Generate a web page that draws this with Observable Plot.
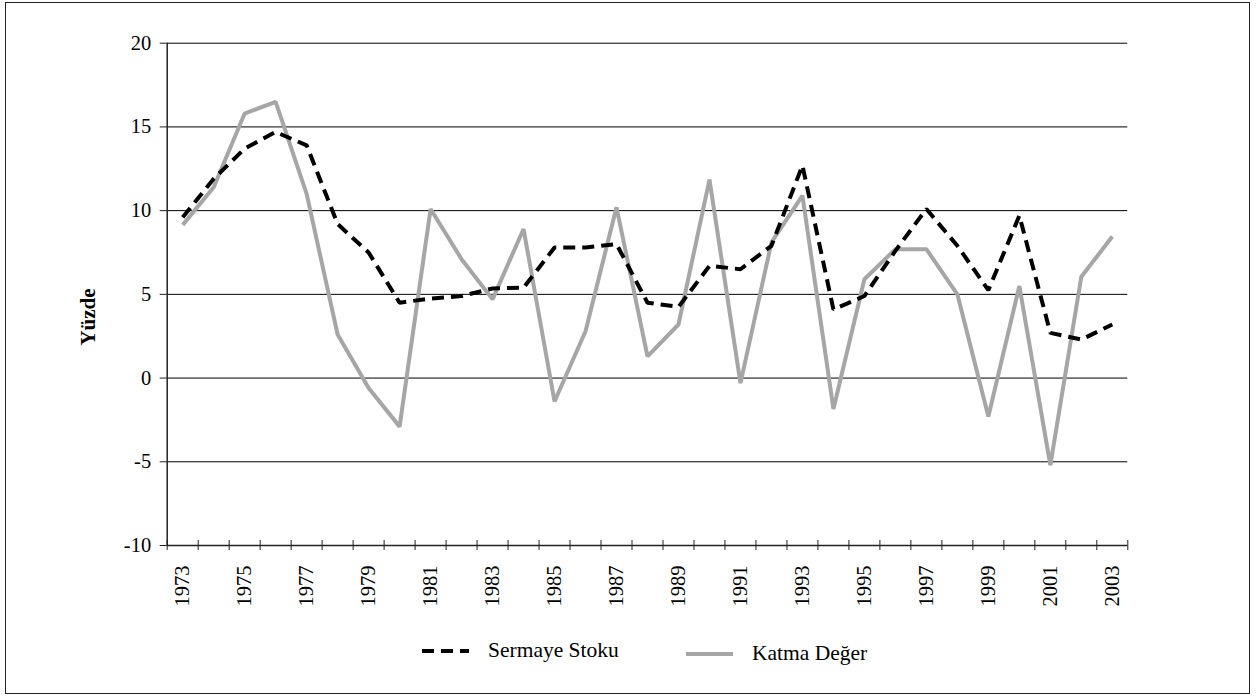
<!DOCTYPE html>
<html>
<head>
<meta charset="utf-8">
<script src="https://cdn.jsdelivr.net/npm/d3@7"></script>
<script src="https://cdn.jsdelivr.net/npm/@observablehq/plot@0.6"></script>
<style>
  html, body { margin: 0; padding: 0; background: #fff; }
  #wrap { position: relative; width: 1257px; height: 697px; overflow: hidden; font-family: "Liberation Serif", "Times New Roman", "DejaVu Serif", serif; }
  #frame { position: absolute; left: 5px; top: 2px; width: 1245px; height: 692px; border: 1.5px solid #222; box-sizing: border-box; pointer-events: none; }
  #chart { position: absolute; left: 0; top: 0; }
  #ylabel { position: absolute; left: 88px; top: 317px; transform: translate(-50%, -50%) rotate(-90deg); font-weight: bold; font-size: 21px; color: #000; white-space: nowrap; }
  .leg { position: absolute; display: flex; align-items: center; font-size: 21.5px; color: #000; white-space: nowrap; }
  .leg svg { margin-right: 19px; }
</style>
</head>
<body>
<div id="wrap">
  <div id="chart"></div>
  <div id="ylabel">Yüzde</div>
  <div id="legend"></div>
  <div id="frame"></div>
</div>
<script>
const years = [1973,1974,1975,1976,1977,1978,1979,1980,1981,1982,1983,1984,1985,1986,1987,1988,1989,1990,1991,1992,1993,1994,1995,1996,1997,1998,1999,2000,2001,2002,2003];
const sermayeStoku = [9.6,11.9,13.7,14.7,13.9,9.2,7.5,4.5,4.75,4.9,5.35,5.4,7.8,7.8,8.0,4.5,4.25,6.7,6.5,7.9,12.7,4.1,4.9,7.6,10.1,7.9,5.25,9.7,2.7,2.3,3.2];
const katmaDeger = [9.15,11.4,15.8,16.5,11.0,2.6,-0.6,-2.9,10.1,7.1,4.7,8.9,-1.4,2.8,10.2,1.3,3.2,11.85,-0.3,8.1,10.9,-1.85,5.9,7.7,7.7,5.0,-2.3,5.5,-5.2,6.05,8.45];
const yTicks = [-10,-5,0,5,10,15,20];
const yearLabels = years.filter(y => y % 2 === 1);
const seriesNames = ["Sermaye Stoku", "Katma Değer"];

const rows1 = years.map((y, i) => ({year: y, value: sermayeStoku[i]}));
const rows2 = years.map((y, i) => ({year: y, value: katmaDeger[i]}));
const boundaries = years.map(y => y - 0.5).concat([years[years.length - 1] + 0.5]);
const gridTicks = yTicks.slice(1);

const plot = Plot.plot({
  width: 1257,
  height: 697,
  marginLeft: 166.7,
  marginRight: 129.7,
  marginTop: 42.7,
  marginBottom: 152,
  style: {fontFamily: "'Liberation Serif', 'Times New Roman', 'DejaVu Serif', serif", background: "transparent", color: "#000"},
  x: {type: "linear", domain: [years[0] - 0.5, years[years.length - 1] + 0.5]},
  y: {domain: [yTicks[0], yTicks[yTicks.length - 1]]},
  marks: [
    Plot.ruleY(gridTicks, {stroke: "#000", strokeWidth: 1}),
    Plot.ruleY([yTicks[0]], {stroke: "#222", strokeWidth: 1.5}),
    Plot.ruleX([boundaries[0]], {stroke: "#222", strokeWidth: 1.5}),
    Plot.axisY({ticks: yTicks, tickSize: 7, tickPadding: 9, fontSize: 20.5, label: null, tickFormat: d => String(d), stroke: "#222"}),
    Plot.axisX({ticks: boundaries, tickSize: 10, dy: -5, tickFormat: () => "", label: null, stroke: "#222"}),
    Plot.axisX({ticks: yearLabels, tickSize: 0, tickPadding: 20, tickRotate: -90, fontSize: 20.5, label: null, tickFormat: d => String(d)}),
    Plot.line(rows2, {x: "year", y: "value", stroke: "#a6a6a6", strokeWidth: 4, strokeLinejoin: "miter", strokeLinecap: "butt"}),
    Plot.line(rows1, {x: "year", y: "value", stroke: "#000", strokeWidth: 4, strokeDasharray: "12,7", strokeLinejoin: "miter", strokeLinecap: "butt"})
  ]
});
document.getElementById("chart").appendChild(plot);

const legend = document.getElementById("legend");
const legItems = [
  {name: seriesNames[0], left: 422, top: 638, stroke: "#000", dash: "12,7"},
  {name: seriesNames[1], left: 686, top: 641, stroke: "#a6a6a6", dash: null}
];
legItems.forEach(it => {
  const d = document.createElement("div");
  d.className = "leg";
  d.style.left = it.left + "px";
  d.style.top = it.top + "px";
  d.innerHTML = `<svg width="47" height="8"><line x1="0" y1="4" x2="47" y2="4" stroke="${it.stroke}" stroke-width="4" ${it.dash ? `stroke-dasharray="${it.dash}"` : ""}/></svg><span>${it.name}</span>`;
  legend.appendChild(d);
});
</script>
</body>
</html>
